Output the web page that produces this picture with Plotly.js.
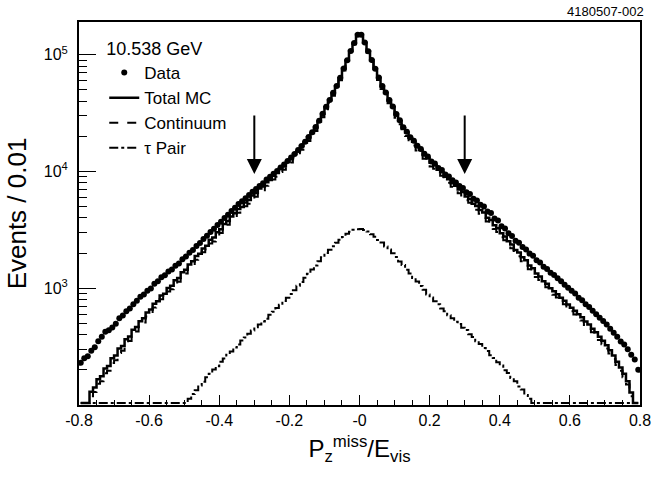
<!DOCTYPE html>
<html>
<head>
<meta charset="utf-8">
<script src="https://cdn.plot.ly/plotly-3.0.1.min.js"></script>
<style>html,body{margin:0;padding:0;background:#fff;}#chart{width:656px;height:478px;}</style>
</head>
<body>
<div id="chart"></div>
<script>
// Histogram binning: 160 bins of width 0.01 from -0.8 to 0.8
const binLow = -0.8;
const binWidth = 0.01;
const nBins = 160;

// Data (events per bin), bins from -0.795 to 0.795
const dataCounts = [
  230, 252, 262, 292, 312, 352, 385, 424, 436, 460,
  496, 553, 585, 634, 670, 730, 780, 846, 884, 952,
  995, 1092, 1150, 1240, 1290, 1392, 1450, 1560, 1630, 1770,
  1870, 2010, 2130, 2300, 2440, 2640, 2810, 3030, 3230, 3480,
  3710, 3990, 4260, 4580, 4890, 5260, 5550, 5900, 6300, 6690,
  7070, 7510, 7930, 8520, 9010, 9560, 10100, 10800, 11500, 12300,
  13200, 14100, 15300, 16500, 18000, 19700, 21700, 24000, 27200, 31200,
  35800, 41000, 47200, 54000, 63500, 76200, 89500, 107500, 126000, 148500,
  148000, 127000, 107000, 90000, 75800, 63800, 53900, 47400, 40900, 36000,
  31000, 27400, 23900, 21900, 19600, 18300, 16600, 15600, 14200, 13400,
  12200, 11700, 10700, 10300, 9400, 9050, 8400, 8050, 7500, 7200,
  6650, 6400, 5850, 5650, 5200, 5000, 4550, 4400, 3950, 3800,
  3400, 3250, 2950, 2800, 2550, 2450, 2250, 2150, 1980, 1900,
  1740, 1660, 1530, 1460, 1360, 1300, 1220, 1150, 1070, 1010,
  950, 900, 830, 790, 730, 690, 640, 600, 560, 525,
  490, 450, 415, 385, 350, 330, 300, 270, 245, 200
];

// Total MC (events per bin)
const totalMC = [
  60, 92, 104, 130, 141, 166, 176, 205, 216, 251,
  266, 305, 320, 366, 386, 440, 465, 522, 552, 620,
  657, 736, 772, 865, 898, 1005, 1052, 1168, 1222, 1370,
  1440, 1600, 1700, 1885, 1975, 2190, 2310, 2600, 2720, 3020,
  3200, 3550, 3760, 4110, 4380, 4770, 4960, 5420, 5690, 6230,
  6550, 7140, 7440, 8100, 8450, 9180, 9700, 10600, 11100, 12100,
  12800, 14100, 15000, 16500, 17700, 19600, 21300, 23800, 26800, 31000,
  35400, 40800, 46700, 53800, 63000, 76000, 89000, 107500, 126000, 149000,
  148000, 126500, 106800, 89500, 75500, 63400, 53400, 47000, 40500, 35700,
  30700, 27100, 23500, 21600, 19300, 17950, 16250, 15250, 13850, 13000,
  11850, 11300, 10350, 9850, 9000, 8590, 7940, 7560, 6990, 6670,
  6100, 5810, 5300, 5060, 4670, 4460, 4020, 3840, 3470, 3270,
  2950, 2780, 2530, 2370, 2130, 2020, 1840, 1740, 1565, 1480,
  1340, 1260, 1150, 1090, 1000, 940, 890, 830, 780, 725,
  680, 640, 600, 565, 520, 490, 450, 420, 385, 355,
  325, 295, 265, 235, 210, 185, 160, 128, 100, 70
];

// tau pair MC (events per bin)
const tauPair = [
  6, 8, 9, 11, 12, 14, 16, 18, 20, 22,
  24, 26, 28, 30, 33, 35, 38, 41, 44, 47,
  50, 53, 56, 59, 62, 66, 70, 76, 84, 94,
  104, 113, 124, 134, 147, 158, 173, 185, 201, 215,
  235, 250, 270, 287, 310, 330, 356, 378, 408, 434,
  463, 488, 520, 548, 592, 628, 678, 722, 778, 828,
  892, 962, 1052, 1132, 1232, 1328, 1447, 1566, 1702, 1838,
  2003, 2138, 2292, 2448, 2602, 2748, 2922, 3048, 3162, 3198,
  3210, 3150, 3060, 2900, 2760, 2590, 2460, 2280, 2150, 1990,
  1850, 1690, 1580, 1440, 1340, 1225, 1140, 1045, 970, 885,
  835, 772, 728, 672, 635, 586, 553, 516, 493, 459,
  438, 404, 383, 352, 333, 307, 290, 267, 253, 232,
  218, 198, 188, 170, 160, 144, 136, 122, 113, 101,
  92, 83, 75, 69, 65, 61, 58, 55, 52, 49,
  46, 43, 40, 37, 35, 32, 30, 27, 25, 23,
  21, 19, 17, 15, 14, 12, 10, 9, 7, 6
];

// Continuum = Total MC - tau pair (Total MC is the sum of the two components)
const continuum = totalMC.map((v, i) => v - tauPair[i]);

const xTickVals = [-0.8, -0.6, -0.4, -0.2, 0, 0.2, 0.4, 0.6, 0.8];
const xTickText = ['-0.8', '-0.6', '-0.4', '-0.2', '-0', '0.2', '0.4', '0.6', '0.8'];
const yTickVals = [1e3, 1e4, 1e5];
const yTickText = ['10<sup>3</sup>', '10<sup>4</sup>', '10<sup>5</sup>'];
const yMinorVals = [200,300,400,500,600,700,800,900,2000,3000,4000,5000,6000,7000,8000,9000,20000,30000,40000,50000,60000,70000,80000,90000];
const cutPositions = [-0.3, 0.3];
const cutArrowTip = 9500;

const yMin = 100, yMaxLog = 5.28;
const binCenters = Array.from({length: nBins}, (_, i) => +(binLow + binWidth * (i + 0.5)).toFixed(3));
// ROOT-like drawing: contents below the frame minimum are drawn on the frame floor
const floorClip = arr => arr.map(v => Math.max(v, yMin * 1.04));

const font = 'Liberation Sans, Arial, Helvetica, sans-serif';

const traces = [
  {x: binCenters, y: dataCounts, type: 'scatter', mode: 'markers', name: 'Data',
   marker: {color: '#000', size: 6, symbol: 'circle'}, cliponaxis: true},
  {x: binCenters, y: floorClip(totalMC), type: 'scatter', mode: 'lines', name: 'Total MC',
   line: {color: '#000', width: 2.5, shape: 'hvh'}},
  {x: binCenters, y: floorClip(continuum), type: 'scatter', mode: 'lines', name: 'Continuum',
   line: {color: '#000', width: 2, dash: 'dash', shape: 'hvh'}},
  {x: binCenters, y: floorClip(tauPair), type: 'scatter', mode: 'lines', name: '\u03c4 Pair',
   line: {color: '#000', width: 2, dash: 'dashdot', shape: 'hvh'}}
];

const annotations = cutPositions.map(c => ({
  x: c, y: Math.log10(cutArrowTip), xref: 'x', yref: 'y', text: '', showarrow: true,
  ax: 0, ay: -60, arrowhead: 2, arrowsize: 1.5, arrowwidth: 2, arrowcolor: '#000', standoff: 0
}));
annotations.push({
  xref: 'paper', yref: 'paper', x: 1.01, y: 1.027, xanchor: 'right', yanchor: 'middle',
  text: '4180507-002', showarrow: false, font: {family: font, size: 13, color: '#000'}
});

const layout = {
  width: 656, height: 478,
  margin: {l: 79, r: 16, t: 22, b: 73},
  paper_bgcolor: '#fff', plot_bgcolor: '#fff',
  showlegend: true,
  legend: {
    x: 0.045, y: 0.975, xanchor: 'left', yanchor: 'top',
    bgcolor: 'rgba(0,0,0,0)', borderwidth: 0,
    font: {family: font, size: 17, color: '#000'},
    title: {text: '10.538 GeV', font: {family: font, size: 18, color: '#000'}},
    tracegroupgap: 0, itemwidth: 30
  },
  xaxis: {
    range: [-0.8, 0.8], tickmode: 'array', tickvals: xTickVals, ticktext: xTickText,
    ticks: 'inside', ticklen: 10, tickwidth: 1, tickcolor: '#000',
    showline: true, linewidth: 2, linecolor: '#000', mirror: true,
    showgrid: false, zeroline: false,
    minor: {ticks: 'inside', dtick: 0.05, tick0: 0, ticklen: 5, tickwidth: 1, tickcolor: '#000', showgrid: false},
    tickfont: {family: font, size: 16, color: '#000'},
    title: {text: 'P<sub>z</sub><sup>miss</sup>/E<sub>vis</sub>', font: {family: font, size: 24, color: '#000'}, standoff: 12}
  },
  yaxis: {
    type: 'log', range: [Math.log10(yMin), yMaxLog], tickmode: 'array', tickvals: yTickVals, ticktext: yTickText,
    ticks: 'inside', ticklen: 17, tickwidth: 1, tickcolor: '#000',
    showline: true, linewidth: 2, linecolor: '#000', mirror: true,
    showgrid: false, zeroline: false,
    minor: {ticks: 'inside', tickmode: 'array', tickvals: yMinorVals, ticklen: 8, tickwidth: 1, tickcolor: '#000', showgrid: false},
    tickfont: {family: font, size: 16, color: '#000'},
    ticklabelstandoff: 6,
    title: {text: 'Events / 0.01', font: {family: font, size: 26, color: '#000'}, standoff: 10}
  },
  annotations: annotations
};

Plotly.newPlot('chart', traces, layout, {displayModeBar: false, staticPlot: true});
</script>
</body>
</html>
